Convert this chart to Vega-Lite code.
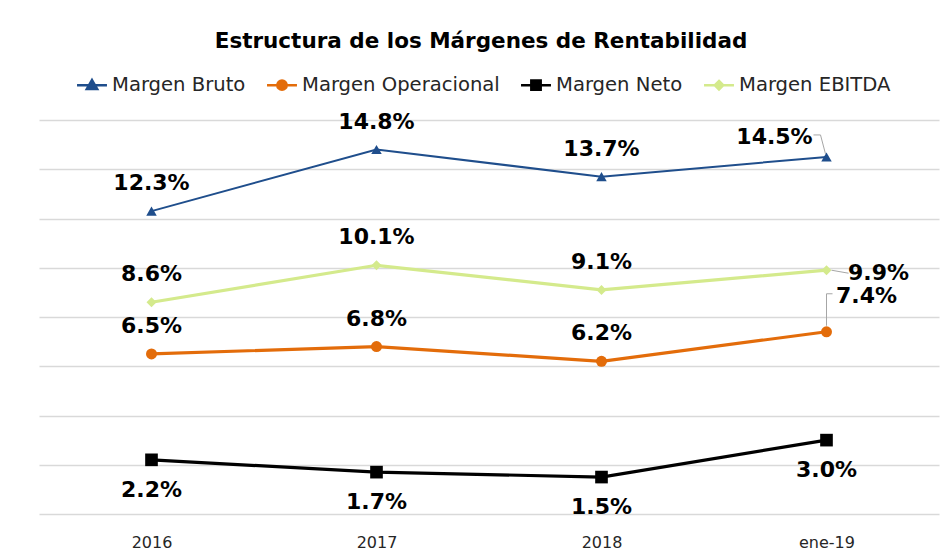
{
  "$schema": "https://vega.github.io/schema/vega-lite/v6.json",
  "width": 900,
  "height": 394,
  "autosize": {"type": "none"},
  "padding": {"left": 39, "top": 120, "right": 2, "bottom": 46},
  "background": "white",
  "title": {
    "text": "Estructura de los Márgenes de Rentabilidad",
    "font": "DejaVu Sans",
    "fontSize": 21.5,
    "fontWeight": "bold",
    "color": "#000000",
    "anchor": "middle",
    "offset": 22,
    "dx": -8
  },
  "config": {"view": {"stroke": null}, "font": "DejaVu Sans"},
  "data": {
    "values": [
      {"periodo": "2016", "serie": "Margen Bruto", "valor": 0.123},
      {"periodo": "2017", "serie": "Margen Bruto", "valor": 0.148},
      {"periodo": "2018", "serie": "Margen Bruto", "valor": 0.137},
      {"periodo": "ene-19", "serie": "Margen Bruto", "valor": 0.145},
      {"periodo": "2016", "serie": "Margen Operacional", "valor": 0.065},
      {"periodo": "2017", "serie": "Margen Operacional", "valor": 0.068},
      {"periodo": "2018", "serie": "Margen Operacional", "valor": 0.062},
      {"periodo": "ene-19", "serie": "Margen Operacional", "valor": 0.074},
      {"periodo": "2016", "serie": "Margen Neto", "valor": 0.022},
      {"periodo": "2017", "serie": "Margen Neto", "valor": 0.017},
      {"periodo": "2018", "serie": "Margen Neto", "valor": 0.015},
      {"periodo": "ene-19", "serie": "Margen Neto", "valor": 0.030},
      {"periodo": "2016", "serie": "Margen EBITDA", "valor": 0.086},
      {"periodo": "2017", "serie": "Margen EBITDA", "valor": 0.101},
      {"periodo": "2018", "serie": "Margen EBITDA", "valor": 0.091},
      {"periodo": "ene-19", "serie": "Margen EBITDA", "valor": 0.099}
    ]
  },
  "encoding": {
    "x": {
      "field": "periodo",
      "type": "ordinal",
      "sort": ["2016", "2017", "2018", "ene-19"],
      "scale": {"type": "point", "padding": 0.5},
      "axis": {
        "title": null,
        "labelAngle": 0,
        "labelFontSize": 16,
        "labelColor": "#262626",
        "labelFont": "DejaVu Sans",
        "ticks": false,
        "domain": false,
        "grid": false,
        "labelPadding": 20
      }
    },
    "y": {
      "field": "valor",
      "type": "quantitative",
      "scale": {"domain": [0, 0.16], "nice": false, "zero": true},
      "axis": {
        "title": null,
        "labels": false,
        "ticks": false,
        "domain": false,
        "grid": true,
        "values": [0, 0.02, 0.04, 0.06, 0.08, 0.1, 0.12, 0.14, 0.16],
        "gridColor": "#d9d9d9",
        "gridWidth": 1.5
      }
    },
    "color": {
      "field": "serie",
      "type": "nominal",
      "scale": {
        "domain": ["Margen Bruto", "Margen Operacional", "Margen Neto", "Margen EBITDA"],
        "range": ["#1f4e8c", "#e36c0a", "#000000", "#d4ea8c"]
      },
      "legend": {
        "title": null,
        "orient": "none",
        "legendX": 42,
        "legendY": -46,
        "direction": "horizontal",
        "columns": 4,
        "labelFontSize": 19.6,
        "labelFont": "DejaVu Sans",
        "labelColor": "#262626",
        "labelLimit": 400,
        "symbolSize": 350,
        "labelOffset": 9,
        "columnPadding": 16,
        "symbolStrokeWidth": 2.5,
        "encode": {
          "symbols": {
            "update": {
              "shape": {"signal": "datum.value === 'Margen Bruto' ? 'M-1.6,0H1.6M0,-0.55L0.55,0.4L-0.55,0.4Z' : datum.value === 'Margen Operacional' ? 'M-1.6,0H1.6M0.5,0A0.5,0.5 0 1,1 -0.5,0A0.5,0.5 0 1,1 0.5,0Z' : datum.value === 'Margen Neto' ? 'M-1.6,0H1.6M-0.5,-0.5H0.5V0.5H-0.5Z' : 'M-1.6,0H1.6M0,-0.45L0.45,0L0,0.45L-0.45,0Z'"},
              "fill": {"scale": "color", "field": "value"},
              "stroke": {"scale": "color", "field": "value"},
              "strokeWidth": {"value": 2.5},
              "size": {"value": 350},
              "opacity": {"value": 1}
            }
          }
        }
      }
    }
  },
  "layer": [
    {
      "transform": [{"filter": "datum.serie !== 'Margen Bruto'"}],
      "mark": {"type": "line", "strokeWidth": 3.2}
    },
    {
      "transform": [{"filter": "datum.serie === 'Margen Bruto'"}],
      "mark": {"type": "line", "strokeWidth": 2}
    },
    {
      "transform": [{"filter": "datum.serie === 'Margen Bruto'"}],
      "mark": {"type": "point", "shape": "triangle-up", "size": 110, "filled": true, "opacity": 1}
    },
    {
      "transform": [{"filter": "datum.serie === 'Margen Operacional'"}],
      "mark": {"type": "point", "shape": "circle", "size": 121, "filled": true, "opacity": 1}
    },
    {
      "transform": [{"filter": "datum.serie === 'Margen Neto'"}],
      "mark": {"type": "point", "shape": "square", "size": 160, "filled": true, "opacity": 1}
    },
    {
      "transform": [{"filter": "datum.serie === 'Margen EBITDA'"}],
      "mark": {"type": "point", "shape": "diamond", "size": 100, "filled": true, "opacity": 1}
    },
    {
      "transform": [{"filter": "datum.serie !== 'Margen Neto' && datum.periodo !== 'ene-19'"}],
      "mark": {"type": "text", "font": "DejaVu Sans", "fontSize": 22, "fontWeight": "bold", "baseline": "middle", "align": "center", "dy": -28},
      "encoding": {"text": {"field": "valor", "type": "quantitative", "format": ".1%"}, "color": {"value": "#000000"}}
    },
    {
      "transform": [{"filter": "datum.serie === 'Margen Neto'"}],
      "mark": {"type": "text", "font": "DejaVu Sans", "fontSize": 22, "fontWeight": "bold", "baseline": "middle", "align": "center", "dy": 30},
      "encoding": {"text": {"field": "valor", "type": "quantitative", "format": ".1%"}, "color": {"value": "#000000"}}
    },
    {
      "transform": [{"filter": "datum.serie === 'Margen Bruto' && datum.periodo === 'ene-19'"}],
      "mark": {"type": "text", "font": "DejaVu Sans", "fontSize": 22, "fontWeight": "bold", "baseline": "middle", "align": "center", "dx": -52, "dy": -20},
      "encoding": {"text": {"field": "valor", "type": "quantitative", "format": ".1%"}, "color": {"value": "#000000"}}
    },
    {
      "transform": [{"filter": "datum.serie === 'Margen EBITDA' && datum.periodo === 'ene-19'"}],
      "mark": {"type": "text", "font": "DejaVu Sans", "fontSize": 22, "fontWeight": "bold", "baseline": "middle", "align": "center", "dx": 52, "dy": 3},
      "encoding": {"text": {"field": "valor", "type": "quantitative", "format": ".1%"}, "color": {"value": "#000000"}}
    },
    {
      "transform": [{"filter": "datum.serie === 'Margen Operacional' && datum.periodo === 'ene-19'"}],
      "mark": {"type": "text", "font": "DejaVu Sans", "fontSize": 22, "fontWeight": "bold", "baseline": "middle", "align": "center", "dx": 40, "dy": -36},
      "encoding": {"text": {"field": "valor", "type": "quantitative", "format": ".1%"}, "color": {"value": "#000000"}}
    },
    {
      "transform": [{"filter": "datum.serie === 'Margen Bruto' && datum.periodo === 'ene-19'"}],
      "mark": {"type": "rule", "strokeWidth": 1, "xOffset": -1, "yOffset": -3, "x2Offset": -6, "y2Offset": -22},
      "encoding": {"x2": {"field": "periodo"}, "y2": {"field": "valor"}, "color": {"value": "#a6a6a6"}}
    },
    {
      "transform": [{"filter": "datum.serie === 'Margen Bruto' && datum.periodo === 'ene-19'"}],
      "mark": {"type": "rule", "strokeWidth": 1, "xOffset": -6, "yOffset": -22, "x2Offset": -13, "y2Offset": -22},
      "encoding": {"x2": {"field": "periodo"}, "y2": {"field": "valor"}, "color": {"value": "#a6a6a6"}}
    },
    {
      "transform": [{"filter": "datum.serie === 'Margen EBITDA' && datum.periodo === 'ene-19'"}],
      "mark": {"type": "rule", "strokeWidth": 1, "xOffset": 5, "yOffset": 0, "x2Offset": 22, "y2Offset": 3},
      "encoding": {"x2": {"field": "periodo"}, "y2": {"field": "valor"}, "color": {"value": "#a6a6a6"}}
    },
    {
      "transform": [{"filter": "datum.serie === 'Margen Operacional' && datum.periodo === 'ene-19'"}],
      "mark": {"type": "rule", "strokeWidth": 1, "xOffset": 0, "yOffset": -6, "x2Offset": 0, "y2Offset": -38},
      "encoding": {"x2": {"field": "periodo"}, "y2": {"field": "valor"}, "color": {"value": "#a6a6a6"}}
    },
    {
      "transform": [{"filter": "datum.serie === 'Margen Operacional' && datum.periodo === 'ene-19'"}],
      "mark": {"type": "rule", "strokeWidth": 1, "xOffset": 0, "yOffset": -38, "x2Offset": 6, "y2Offset": -38},
      "encoding": {"x2": {"field": "periodo"}, "y2": {"field": "valor"}, "color": {"value": "#a6a6a6"}}
    }
  ]
}
